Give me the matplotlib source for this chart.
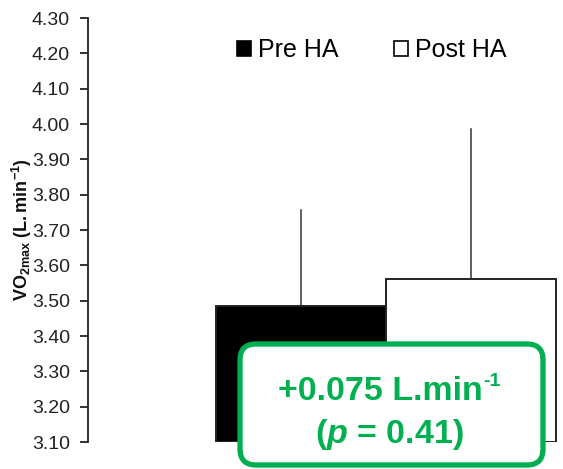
import matplotlib
matplotlib.use("Agg")
import matplotlib.pyplot as plt
from matplotlib.patches import Patch, FancyBboxPatch

plt.rcParams["font.family"] = ["Liberation Sans", "DejaVu Sans"]
plt.rcParams["mathtext.fontset"] = "custom"
plt.rcParams["mathtext.rm"] = "Liberation Sans"
plt.rcParams["mathtext.it"] = "Liberation Sans:italic"
plt.rcParams["mathtext.bf"] = "Liberation Sans:bold"
plt.rcParams["mathtext.bfit"] = "Liberation Sans:bold:italic"

# Group means and SD (L.min-1)
groups = ["Pre HA", "Post HA"]
means = [3.485, 3.560]
sds = [0.272, 0.425]
face_colors = ["black", "white"]
y_ticks = [3.10, 3.20, 3.30, 3.40, 3.50, 3.60, 3.70, 3.80, 3.90, 4.00, 4.10, 4.20, 4.30]
change_main = "+0.075 L.min"
change_sup = "-1"
p_text = "($\\boldsymbol{p}$ = 0.41)"

W, H = 563, 469
fig = plt.figure(figsize=(W / 100, H / 100), dpi=100)
ax = fig.add_axes([88 / W, (H - 442) / H, (W - 88) / W, 424 / H])

xpos = [-0.5, 0.5]
ymin = y_ticks[0]
for x, m, sd, fc in zip(xpos, means, sds, face_colors):
    ax.plot([x, x], [m, m + sd], color="#333333", lw=1.1, zorder=1)
    ax.bar(x, m - ymin, bottom=ymin, width=1.0, color=fc,
           edgecolor="#222222", linewidth=1.4, zorder=2)

ax.set_ylim(y_ticks[0], y_ticks[-1])
ax.set_xlim(-298 / 170, (475 - 298) / 170)
ax.set_yticks(y_ticks)
ax.set_yticklabels([f"{t:.2f}" for t in y_ticks], fontsize=14, color="#222222")
ax.tick_params(axis="y", direction="out", length=6, width=1.3, color="#222222", pad=7)
ax.set_xticks([])
for s in ["top", "right", "bottom"]:
    ax.spines[s].set_visible(False)
ax.spines["left"].set_linewidth(1.3)
ax.spines["left"].set_color("#222222")

fig.text(22 / W, 1 - 230 / H, r"$\mathbf{VO_{2max}\ (L.min^{-1})}$",
         rotation=90, ha="center", va="center", fontsize=13, color="#111111")

handles = [Patch(facecolor=fc, edgecolor="black", linewidth=1.2, label=g)
           for g, fc in zip(groups, face_colors)]
fig.legend(handles=handles, loc="center", bbox_to_anchor=(372 / W, 1 - 50 / H),
           ncol=2, frameon=False, fontsize=18, handlelength=0.55, handleheight=0.55,
           handletextpad=0.3, columnspacing=2.2)

green = "#00B050"
box = FancyBboxPatch((240, H - 465), 303, 121,
                     boxstyle="round,pad=0,rounding_size=16",
                     transform=None, facecolor="white", edgecolor=green,
                     linewidth=3.8, zorder=5)
fig.patches.append(box)

# First line: main text plus a raised "-1", centred together in the box
renderer = fig.canvas.get_renderer()
t_main = fig.text(0, 1 - 392 / H, change_main, ha="left", va="center",
                  fontsize=24.5, fontweight="bold", color=green, zorder=6)
t_sup = fig.text(0, 1 - 381 / H, change_sup, ha="left", va="center",
                 fontsize=14, fontweight="bold", color=green, zorder=6)
w_main = t_main.get_window_extent(renderer).width
w_sup = t_sup.get_window_extent(renderer).width
x0 = 389 - (w_main + w_sup) / 2
t_main.set_x(x0 / W)
t_sup.set_x((x0 + w_main + 1) / W)

fig.text(389 / W, 1 - 435 / H, p_text, ha="center", va="center",
         fontsize=24.5, fontweight="bold", color=green, zorder=6)

fig.savefig("out.png", dpi=100)
